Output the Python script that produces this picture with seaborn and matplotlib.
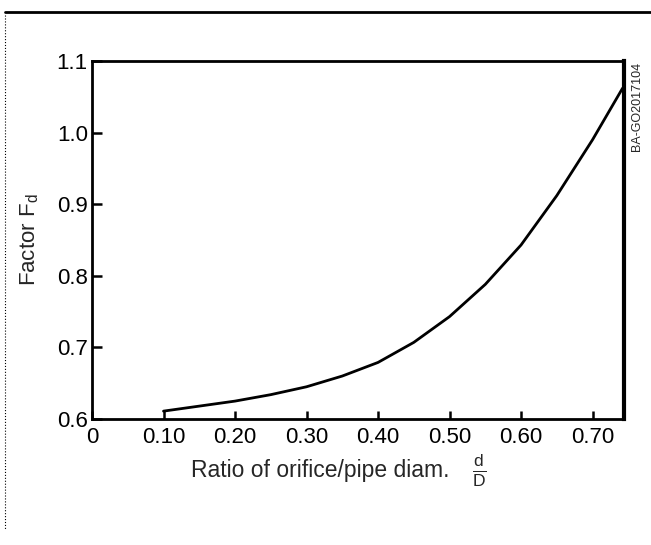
import matplotlib
matplotlib.use("Agg")
import matplotlib.pyplot as plt
from matplotlib.lines import Line2D
import seaborn as sns
import pandas as pd

# Data
ratio_d_D = [0.10, 0.15, 0.20, 0.25, 0.30, 0.35, 0.40, 0.45, 0.50, 0.55, 0.60, 0.65, 0.70, 0.742]
factor_Fd = [0.611, 0.618, 0.625, 0.634, 0.645, 0.660, 0.679, 0.707, 0.743, 0.788, 0.843, 0.912, 0.990, 1.062]
x_ticks = [0, 0.10, 0.20, 0.30, 0.40, 0.50, 0.60, 0.70]
x_tick_labels = ["0", "0.10", "0.20", "0.30", "0.40", "0.50", "0.60", "0.70"]
y_ticks = [0.6, 0.7, 0.8, 0.9, 1.0, 1.1]
y_tick_labels = ["0.6", "0.7", "0.8", "0.9", "1.0", "1.1"]

sns.set_theme(style="white")
plt.rcParams['font.family'] = ['Liberation Sans', 'DejaVu Sans']
plt.rcParams['mathtext.fontset'] = 'custom'
plt.rcParams['mathtext.rm'] = 'Liberation Sans'
plt.rcParams['mathtext.it'] = 'Liberation Sans'
plt.rcParams['mathtext.default'] = 'regular'

df = pd.DataFrame({"ratio": ratio_d_D, "factor": factor_Fd})

fig = plt.figure(figsize=(6.51, 5.45), dpi=100)
ax = fig.add_axes([92/651, 1 - 419/545, (624-92)/651, (419-61)/545])
sns.lineplot(data=df, x="ratio", y="factor", ax=ax, color="black", linewidth=2)

ax.set_xlim(0, 0.744)
ax.set_ylim(0.6, 1.1)
ax.set_xticks(x_ticks)
ax.set_xticklabels(x_tick_labels)
ax.set_yticks(y_ticks)
ax.set_yticklabels(y_tick_labels)
ax.tick_params(axis='both', direction='in', colors='black', labelsize=16, width=1.8,
               bottom=True, left=True, top=False, right=False)
ax.tick_params(axis='y', length=7, pad=3)
ax.tick_params(axis='x', length=6, pad=6)

for side, w in [("left", 2), ("bottom", 2), ("top", 2), ("right", 3)]:
    ax.spines[side].set_visible(True)
    ax.spines[side].set_color("black")
    ax.spines[side].set_linewidth(w)

ax.set_xlabel("")
ax.set_ylabel("")
fig.text(30/651, 1 - 240/545, "Factor F$_d$", rotation=90, ha='center', va='center', fontsize=16)
fig.text(320/651, 1 - 471/545, "Ratio of orifice/pipe diam.", ha='center', va='center', fontsize=16.5)
fig.text(479/651, 1 - 470/545, r"$\frac{d}{D}$", ha='center', va='center', fontsize=18)
fig.text(637/651, 1 - 62/545, "BA-GO2017104", rotation=90, ha='center', va='top', fontsize=9)

# page frame lines
fig.add_artist(Line2D([5/651, 1], [1 - 12/545, 1 - 12/545], color='black', linewidth=2))
fig.add_artist(Line2D([5/651, 5/651], [1 - 15/545, 1 - 530/545], color='black', linewidth=0.8, linestyle=':'))

fig.savefig("out.png", dpi=100, facecolor='white')
